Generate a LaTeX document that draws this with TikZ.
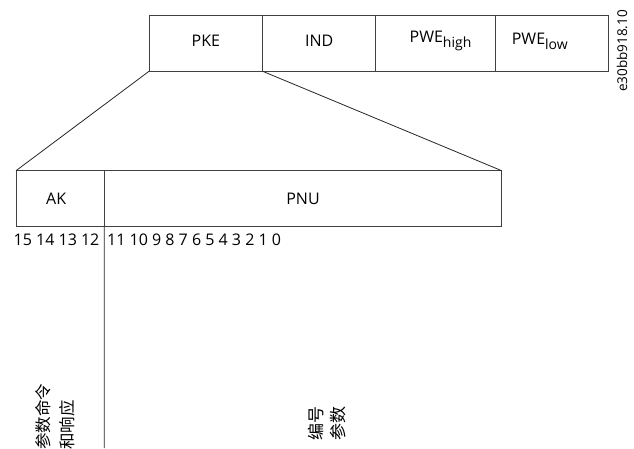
\documentclass[tikz,border=0pt]{standalone}
\usepackage{fontspec}
\setmainfont{Open Sans}
\newfontfamily\cjk{Noto Sans CJK SC}
\begin{document}
\begin{tikzpicture}[x=1pt,y=-1pt,
  box/.style={draw=black!75, line width=0.9pt, inner sep=0pt, outer sep=0pt, anchor=north west, minimum height=56.3pt},
  lbl/.style={font=\fontsize{16}{19}\selectfont, inner sep=0pt},
  conn/.style={draw=black!85, line width=0.8pt},
  cjklbl/.style={font=\cjk\fontsize{16.5}{24}\selectfont, inner sep=0pt, rotate=90}]
\useasboundingbox (0,0) rectangle (634,448);
% top word
\node[box, minimum width=113.7pt] (pke) at (149,15) {};
\node[box, minimum width=113pt] (ind) at (262.7,15) {};
\node[box, minimum width=119.6pt] (hi) at (375.7,15) {};
\node[box, minimum width=113pt] (lo) at (495.3,15) {};
\node[lbl] (tpke) at ([yshift=2pt]pke.center) {PKE};
\node[lbl] (tind) at ([yshift=2pt]ind.center) {IND};
\node[lbl] (thi) at ([xshift=5pt,yshift=2pt]hi.center) {PWE\raisebox{-5pt}{\fontsize{14}{14}\selectfont high}};
\node[lbl] (tlo) at ([xshift=-12pt,yshift=2pt]lo.center) {PWE\raisebox{-5pt}{\fontsize{14}{14}\selectfont low}};
% bottom word
\node[box, minimum width=88.3pt, minimum height=56pt] (ak) at (16,170.7) {};
\node[box, minimum width=397.4pt, minimum height=56pt] (pnu) at (104.3,170.7) {};
\node[lbl] (tak) at ([xshift=-4pt]ak.center) {AK};
\node[lbl] (tpnu) at (pnu.center) {PNU};
% connectors
\draw[conn] (pke.south west) -- (ak.north west);
\draw[conn] (pke.south east) -- (pnu.north east);
\coordinate (vend) at (104.3,448);
\draw[conn] (ak.south east) -- (vend);
% bit numbers
\node[lbl, anchor=base west] (bhi) at (13.5,245.5) {15 14 13 12};
\node[lbl, anchor=base west] (blo) at (107,245.5) {11 10 9 8 7 6 5 4 3 2 1 0};
% code
\node[font=\fontsize{13.5}{13.5}\selectfont, inner sep=0pt, rotate=90] (code) at (622,51) {e30bb918.10};
% chinese labels
\node[cjklbl, anchor=north west, align=left] (cmd) at (35,450) {参数命令\\和响应};
\node[cjklbl, font=\cjk\fontsize{17}{21.5}\selectfont, align=center] (pnum) at (327,423.5) {编号\\参数};
\end{tikzpicture}
\end{document}
